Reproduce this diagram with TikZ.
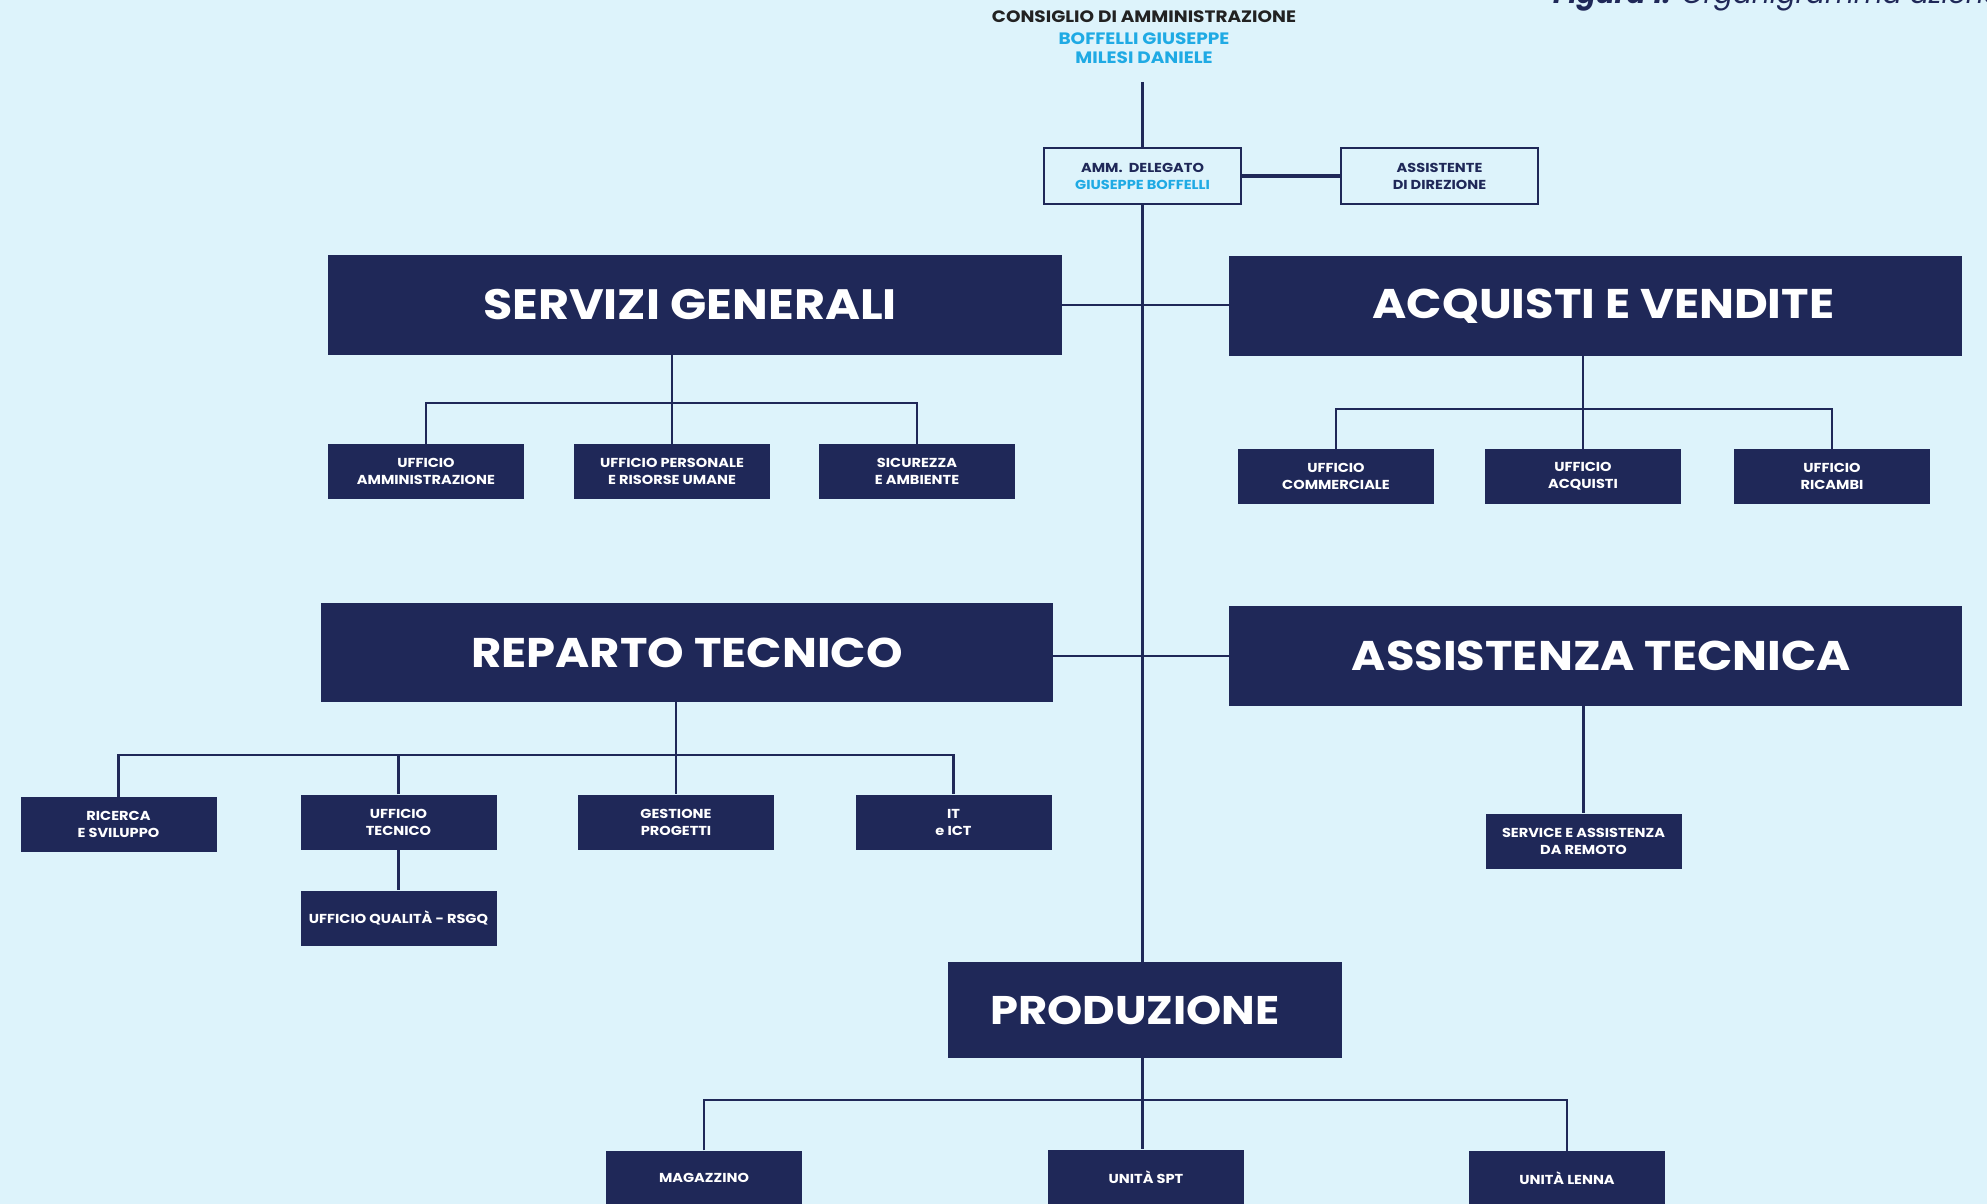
\documentclass[tikz,border=0pt]{standalone}
\usepackage{fontspec}
\setmainfont{Poppins}[FakeStretch=1.12]
\newfontfamily\capfont{Poppins}
\definecolor{bg}{HTML}{DDF3FB}
\definecolor{navy}{HTML}{1F2858}
\definecolor{cyanx}{HTML}{1FAAE4}
\definecolor{ink}{HTML}{222222}
\begin{document}
\begin{tikzpicture}[x=1pt,y=-1pt,
  bigbox/.style={fill=navy, text=white, inner sep=0pt, font=\fontsize{41.5}{50}\selectfont\bfseries},
  smallbox/.style={fill=navy, text=white, inner sep=0pt, minimum width=196pt, minimum height=55pt, align=center, font=\fontsize{13}{17}\selectfont\bfseries},
  outlbox/.style={draw=navy, line width=2pt, fill=bg, inner sep=0pt, minimum width=196pt, minimum height=55pt, align=center, text=navy, font=\fontsize{13}{17}\selectfont\bfseries},
  conn/.style={draw=navy, line width=2.6pt},
  titletext/.style={anchor=base, inner sep=0pt, font=\fontsize{16.5}{21}\selectfont\bfseries}]
\clip (0,0) rectangle (1987,1204);
\fill[bg] (0,0) rectangle (1987,1204);

% caption
\node[anchor=base west, inner sep=0pt, text=navy, font=\capfont\fontsize{28}{30}\selectfont\itshape] (cap) at (1553,4) {\textbf{Figura 1.} Organigramma aziendale};

% board
\node[titletext, text=ink] (cda1) at (1144,22.5) {CONSIGLIO DI AMMINISTRAZIONE};
\node[titletext, text=cyanx] (cda2) at (1144,45) {BOFFELLI GIUSEPPE};
\node[titletext, text=cyanx] (cda3) at (1144,64) {MILESI DANIELE};
\coordinate (cdabot) at (1142.5,82);

\node[outlbox, minimum width=197pt] (amm) at (1142.5,176) {AMM.\ \ DELEGATO\\\textcolor{cyanx}{GIUSEPPE BOFFELLI}};
\node[outlbox, minimum width=197pt] (ass) at (1439.5,176) {ASSISTENTE\\DI DIREZIONE};

% main areas
\node[bigbox, minimum width=734pt, minimum height=100pt, font=\fontsize{42.5}{50}\selectfont\bfseries] (sg) at (695,305) {\hspace*{-10pt}SERVIZI GENERALI};
\node[bigbox, minimum width=733pt, minimum height=100pt] (av) at (1595.5,306) {\hspace*{16pt}ACQUISTI E VENDITE};
\node[bigbox, minimum width=732pt, minimum height=99pt] (rt) at (687,652.5) {REPARTO TECNICO};
\node[bigbox, minimum width=733pt, minimum height=100pt] (at) at (1595.5,656) {\hspace*{12pt}ASSISTENZA TECNICA};
\node[bigbox, minimum width=394pt, minimum height=96pt, font=\fontsize{40}{50}\selectfont\bfseries] (prod) at (1145,1010) {\hspace*{-20pt}PRODUZIONE};

% offices
\node[smallbox] (ua) at (426,471.5) {UFFICIO\\AMMINISTRAZIONE};
\node[smallbox] (up) at (672,471.5) {UFFICIO PERSONALE\\E RISORSE UMANE};
\node[smallbox] (us) at (917,471.5) {SICUREZZA\\E AMBIENTE};

\node[smallbox] (uc) at (1336,476.5) {UFFICIO\\COMMERCIALE};
\node[smallbox] (uacq) at (1583,476.5) {UFFICIO\\ACQUISTI};
\node[smallbox] (ur) at (1832,476.5) {UFFICIO\\RICAMBI};

\node[smallbox] (ric) at (118.5,824.5) {RICERCA\\E SVILUPPO};
\node[smallbox] (ut) at (398.5,822) {UFFICIO\\TECNICO};
\node[smallbox] (gp) at (676,822) {GESTIONE\\PROGETTI};
\node[smallbox] (it) at (953.5,822) {IT\\e ICT};
\node[smallbox] (uq) at (398.5,918) {UFFICIO QUALITÀ - RSGQ};

\node[smallbox] (serv) at (1583.5,841) {SERVICE E ASSISTENZA\\DA REMOTO};

\node[smallbox] (mag) at (704,1178) {MAGAZZINO};
\node[smallbox] (spt) at (1146,1177) {UNITÀ SPT};
\node[smallbox] (lenna) at (1567,1178.5) {UNITÀ LENNA};

% bus levels
\coordinate (sgbus) at (0,403);
\coordinate (avbus) at (0,409);
\coordinate (rtbus) at (0,755);
\coordinate (prodbus) at (0,1100);

% connectors
\draw[conn] (cdabot) -- (amm.north);
\draw[conn, line width=4.5pt] (amm.east) -- (ass.west);
\draw[conn] (amm.south) -- (amm.south |- prod.north);
\draw[conn] (sg.east) -- (av.west |- sg.east);
\draw[conn] (rt.east |- at.west) -- (at.west);

\draw[conn] (up.north |- sg.south) -- (up.north);
\draw[conn] (ua.north) -- (ua.north |- sgbus) -- (us.north |- sgbus) -- (us.north);

\draw[conn] (uacq.north |- av.south) -- (uacq.north);
\draw[conn] (uc.north) -- (uc.north |- avbus) -- (ur.north |- avbus) -- (ur.north);

\draw[conn] (gp.north |- rt.south) -- (gp.north);
\draw[conn] (ric.north) -- (ric.north |- rtbus) -- (it.north |- rtbus) -- (it.north);
\draw[conn] (ut.north) -- (ut.north |- rtbus);
\draw[conn] (ut.south) -- (uq.north);

\draw[conn] (serv.north |- at.south) -- (serv.north);

\draw[conn] (amm.south |- prod.south) -- (amm.south |- spt.north);
\draw[conn] (mag.north) -- (mag.north |- prodbus) -- (lenna.north |- prodbus) -- (lenna.north);
\end{tikzpicture}
\end{document}
